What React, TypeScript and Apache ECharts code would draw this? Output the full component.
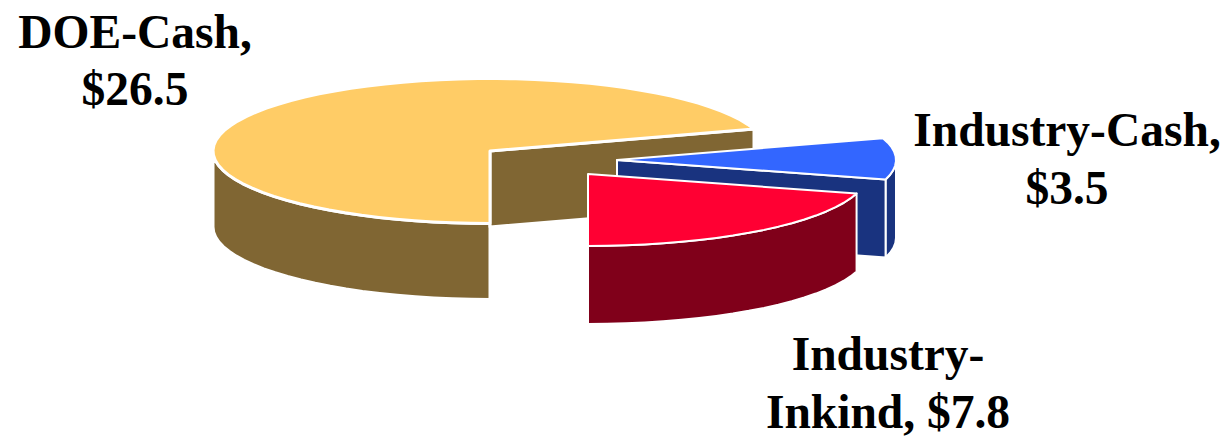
import React, { useEffect, useRef } from "react";
import * as echarts from "echarts";

const categories = ["DOE-Cash", "Industry-Cash", "Industry-Inkind"];
const values = [26.5, 3.5, 7.8];
const labelLines = [
  ["DOE-Cash,", "$26.5"],
  ["Industry-Cash,", "$3.5"],
  ["Industry-", "Inkind, $7.8"],
];
const topColors = ["#FFCC66", "#3366FF", "#FF0033"];
const sideColors = ["#806633", "#19337F", "#80001A"];

// Layout of the exploded 3D pie, in pixels of the 1228x439 page
const centers = [[490, 151], [617, 160], [588, 174]];
const radiiX = [277, 279, 279];
const radiiY = [72.5, 72, 72];
const strokeWidths = [3, 2, 2];
const depths = [76, 78, 78];
const labelX = [135, 1067, 888];
const labelY = [[32, 89], [130, 188], [354, 412]];
const FONT = '"Liberation Serif", "Times New Roman", serif';

const total = values.reduce((a, b) => a + b, 0);
const starts: number[] = [];
values.reduce((acc, v, i) => {
  starts[i] = acc;
  return acc + (v / total) * 360;
}, 0);

const arcPoints = (i: number, from: number, to: number, dy = 0) => {
  const pts: number[][] = [];
  const n = Math.max(1, Math.ceil(Math.abs(to - from) / 4));
  for (let k = 0; k <= n; k++) {
    const t = ((from + ((to - from) * k) / n) * Math.PI) / 180;
    pts.push([
      centers[i][0] - radiiX[i] * Math.sin(t),
      centers[i][1] + radiiY[i] * Math.cos(t) + dy,
    ]);
  }
  return pts;
};

const wall = (i: number, from: number, to: number, fill: string) => ({
  type: "polygon",
  shape: { points: [...arcPoints(i, from, to), ...arcPoints(i, to, from, depths[i])] },
  style: { fill, stroke: "#fff", lineWidth: strokeWidths[i], lineJoin: "round" },
});

const renderSlice = (_: any, api: any) => {
  const i = api.value(0);
  const from = starts[i];
  const to = from + (api.value(1) / total) * 360;
  const side = sideColors[i];
  const children: any[] = [];
  // outer wall, only the part that faces the viewer
  if (from < 90) children.push(wall(i, from, Math.min(to, 90), side));
  if (to > 270) children.push(wall(i, Math.max(from, 270), to, side));
  // cut face of the slice's clockwise end, when it faces the viewer
  if (to < 360) {
    const c = centers[i];
    const e = arcPoints(i, to, to)[0];
    children.push({
      type: "polygon",
      shape: {
        points: [
          [c[0], c[1]],
          e,
          [e[0], e[1] + depths[i]],
          [c[0], c[1] + depths[i]],
        ],
      },
      style: { fill: side, stroke: "#fff", lineWidth: strokeWidths[i], lineJoin: "round" },
    });
  }
  // top face
  children.push({
    type: "polygon",
    shape: { points: [centers[i], ...arcPoints(i, from, to)] },
    style: { fill: topColors[i], stroke: "#fff", lineWidth: strokeWidths[i], lineJoin: "round" },
  });
  return { type: "group", children };
};

export default function App() {
  const ref = useRef<HTMLDivElement>(null);
  useEffect(() => {
    document.body.style.margin = "0";
    const chart = echarts.init(ref.current!, null, { renderer: "svg" });
    chart.setOption({
      animation: false,
      backgroundColor: "#fff",
      series: [
        {
          type: "custom",
          coordinateSystem: "none",
          silent: true,
          data: categories.map((name, i) => ({ name, value: [i, values[i]] })),
          renderItem: renderSlice,
        },
      ],
      graphic: labelLines.flatMap((lines, i) =>
        lines.map((text, j) => ({
          type: "text",
          x: labelX[i],
          y: labelY[i][j],
          z: 10,
          style: {
            text,
            fill: "#000",
            font: `bold 47.5px ${FONT}`,
            textAlign: "center",
            textVerticalAlign: "middle",
          },
        }))
      ),
    });
    return () => chart.dispose();
  }, []);
  return <div ref={ref} style={{ width: 1228, height: 439 }} />;
}
